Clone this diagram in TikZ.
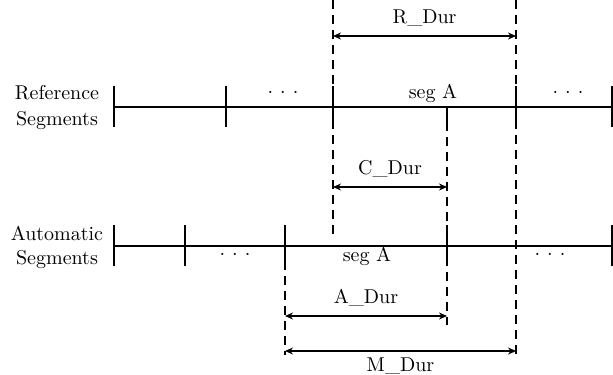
\documentclass[tikz,border=0pt]{standalone}
\usetikzlibrary{arrows.meta}
\begin{document}
\begin{tikzpicture}[x=0.5pt,y=-0.5pt,
  seg/.style={line width=0.6pt},
  guide/.style={line width=0.6pt,dash pattern=on 4.5pt off 3pt},
  dim/.style={line width=0.6pt,{Stealth[length=4pt,width=3.5pt]}-{Stealth[length=4pt,width=3.5pt]}},
  lbl/.style={inner sep=0pt}]
\newcommand{\mydots}{.\hspace{3.5pt}.\hspace{3.5pt}.}
\useasboundingbox (0,0) rectangle (613,374);
% reference line coordinates
\coordinate (r0) at (114,107);
\coordinate (r1) at (226,107);
\coordinate (r2) at (333,107);
\coordinate (r3) at (516,107);
\coordinate (r4) at (612,107);
\coordinate (rc) at (447,107);
% automatic line coordinates
\coordinate (a0) at (114,246);
\coordinate (a1) at (185,246);
\coordinate (a2) at (285,246);
\coordinate (a3) at (447,246);
\coordinate (a4) at (612,246);
% guide ends
\coordinate (g2top) at (333,0);
\coordinate (g2bot) at (333,240);
\coordinate (g3top) at (516,0);
\coordinate (g3bot) at (516,355);
\coordinate (gcbot) at (447,325);
\coordinate (gabot) at (285,355);
% dashed guides
\draw[guide] (g2top) -- (g2bot);
\draw[guide] (g3top) -- (g3bot);
\draw[guide] (rc) -- (gcbot);
\draw[guide] (a2) -- (gabot);
% segment lines
\draw[seg] (r0) -- (r4);
\draw[seg] (a0) -- (a4);
\foreach \c in {r0,r1,r2,r3,r4,a0,a1,a2,a3,a4}
  \draw[seg] ([yshift=-10pt]\c) -- ([yshift=10.5pt]\c);
\draw[seg] (rc) -- ([yshift=-9pt]rc);
% dimension arrows
\coordinate (dR1) at (333,36); \coordinate (dR2) at (516,36);
\coordinate (dC1) at (333,187); \coordinate (dC2) at (447,187);
\coordinate (dA1) at (285,316); \coordinate (dA2) at (447,316);
\coordinate (dM1) at (285,351); \coordinate (dM2) at (516,351);
\draw[dim] (dR1) -- (dR2) node[midway,above=1pt] {R\_Dur};
\draw[dim] (dC1) -- (dC2) node[midway,above=1pt] {C\_Dur};
\draw[dim] (dA1) -- (dA2) node[midway,above=1pt] {A\_Dur};
\draw[dim] (dM1) -- (dM2) node[midway,below=0pt] {M\_Dur};
% texts
\node (t1) at (57,93) {Reference};
\node (t2) at (57,121) {Segments};
\node (t3) at (57,233) {Automatic};
\node (t4) at (57,260) {Segments};
\node (d1) at (283,92) {\mydots};
\node (d2) at (568,92) {\mydots};
\node (d3) at (235,254) {\mydots};
\node (d4) at (550,254) {\mydots};
\node (s1) at (433,93) {seg A};
\node (s2) at (367,256) {seg A};
\end{tikzpicture}
\end{document}
